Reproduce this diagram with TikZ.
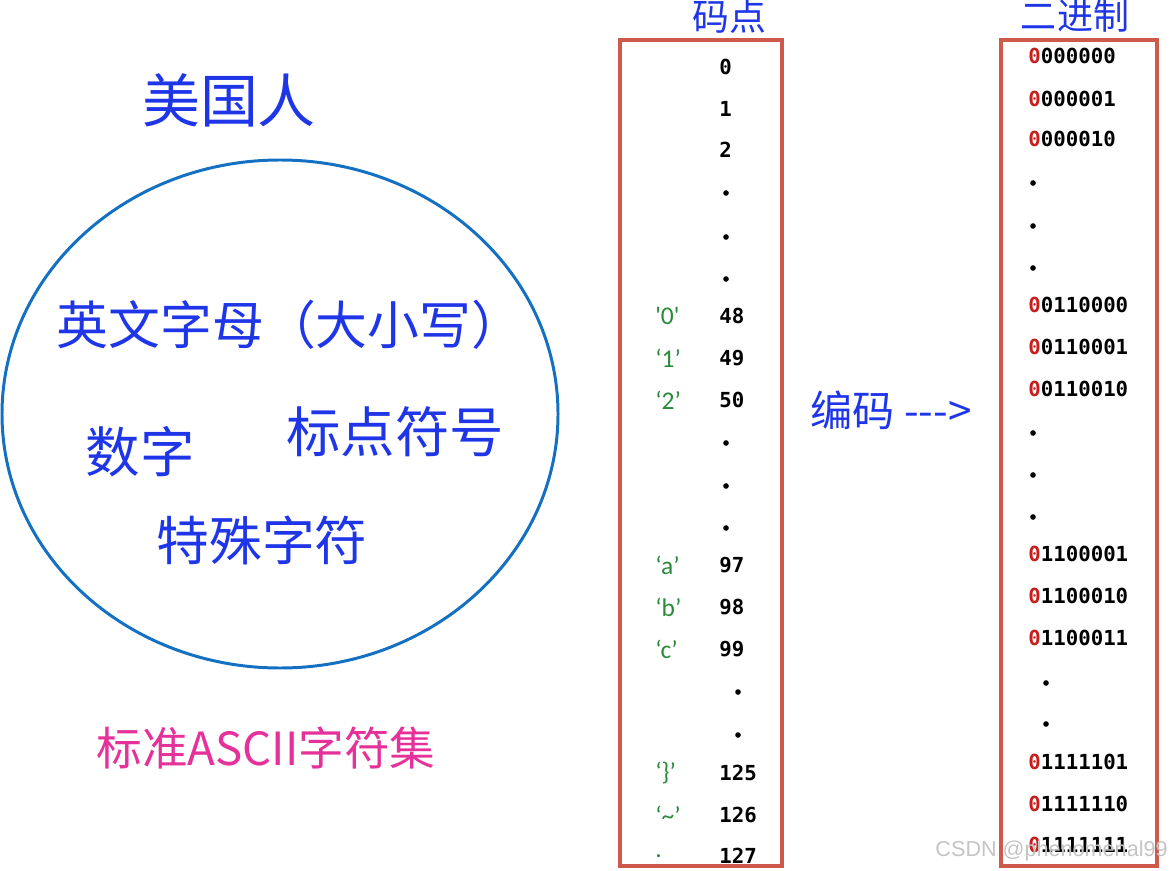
\documentclass[tikz,border=0pt]{standalone}
\usepackage{fontspec}
\setmainfont{Noto Sans CJK SC}
\newfontfamily\codefont{DejaVu Sans Mono}
\newfontfamily\charfont{Carlito}
\newfontfamily\markfont{Liberation Sans}
\usetikzlibrary{positioning}
\definecolor{penblue}{HTML}{1F36E8}
\definecolor{ringblue}{HTML}{1370C2}
\definecolor{boxred}{HTML}{CD5A4B}
\definecolor{digitred}{HTML}{C81E1E}
\definecolor{chargreen}{HTML}{2A8A3A}
\definecolor{setpink}{HTML}{E6309A}
\definecolor{markgray}{HTML}{C4C4C4}

\begin{document}
\begin{tikzpicture}[
  x=0.02cm, y=-0.02cm,
  pen/.style={text=penblue, inner sep=0pt},
  codept/.style={font=\codefont\bfseries\fontsize{11.8}{12}\selectfont, anchor=west, inner sep=0pt},
  glyph/.style={font=\charfont\fontsize{14.5}{14.5}\selectfont, text=chargreen, anchor=west, inner sep=0pt},
  dotmark/.style={circle, fill=black, inner sep=0pt, minimum size=3.2pt},
  frame/.style={draw=boxred, line width=2.2pt},
]
\useasboundingbox (0,0) rectangle (1172,871);
% --- left: the character set ---
\node[pen, font=\fontsize{33}{33}\selectfont] (people) at (229,100) {美国人};
\draw[ringblue, line width=1.7pt] (280,414) ellipse [x radius=278, y radius=254];
\node[pen, font=\fontsize{29.5}{29.5}\selectfont] (letters) at (290,325) {英文字母（大小写）};
\node[pen, font=\fontsize{31}{31}\selectfont] (digits) at (140,452) {数字};
\node[pen, font=\fontsize{31}{31}\selectfont] (punct) at (395,432) {标点符号};
\node[pen, font=\fontsize{30}{30}\selectfont] (special) at (262,540) {特殊字符};
\node[text=setpink, inner sep=0pt, font=\fontsize{26}{26}\selectfont] (charset) at (266,748) {标准ASCII字符集};
% --- middle: code points ---
\node[pen, font=\fontsize{21}{21}\selectfont] (cphead) at (729,16) {码点};
\draw[frame] (620,40) rectangle (782,866);
\foreach \y/\t in {67/0,109/1,150/2,316/48,358/49,400/50,565/97,607/98,649/99,773/125,815/126,856/127}
  \node[codept] (cp\t) at (719,\y) {\t};
\foreach \y [count=\i] in {193,237,279,443,486,528}
  \node[dotmark] (cpdot\i) at (726,\y) {};
\foreach \y [count=\i from 7] in {692,735}
  \node[dotmark] (cpdot\i) at (738,\y) {};
% character for each code point
\node[glyph] (ch48) at (655,316) {\textquotesingle0\textquotesingle};
\node[glyph] (ch49) at (655,358) {‘1’};
\node[glyph] (ch50) at (655,400) {‘2’};
\node[glyph] (ch97) at (655,565) {‘a’};
\node[glyph] (ch98) at (655,607) {‘b’};
\node[glyph] (ch99) at (655,649) {‘c’};
\node[glyph] (ch125) at (655,773) {‘\}’};
\node[glyph] (ch126) at (655,815) {‘\textasciitilde’};
\node[glyph] (ch127) at (655,856) {.};
% --- encoding step ---
\node[pen, anchor=west, font=\fontsize{24}{24}\selectfont] (encode) at (810,410) {编码 -{}-{}->};
% --- right: binary ---
\node[pen, font=\fontsize{20.5}{20.5}\selectfont] (binhead) at (1075,16) {二进制};
\draw[frame] (1001,40) rectangle (1157,866);
\foreach \y/\r in {56/000000,99/000001,139/000010,305/0110000,347/0110001,389/0110010,554/1100001,596/1100010,638/1100011,762/1111101,804/1111110,845/1111111}
  \node[codept] (bin\r) at (1028,\y) {\textcolor{digitred}{0}\r};
\foreach \y [count=\i] in {183,226,268,433,475,517}
  \node[dotmark] (bindot\i) at (1033,\y) {};
\foreach \y [count=\i from 7] in {683,724}
  \node[dotmark] (bindot\i) at (1046,\y) {};
% watermark
\node[text=markgray, anchor=east, inner sep=0pt, font=\markfont\fontsize{12.3}{12.3}\selectfont] (mark) at (1168,851) {CSDN @phenomenal99};
\end{tikzpicture}
\end{document}
